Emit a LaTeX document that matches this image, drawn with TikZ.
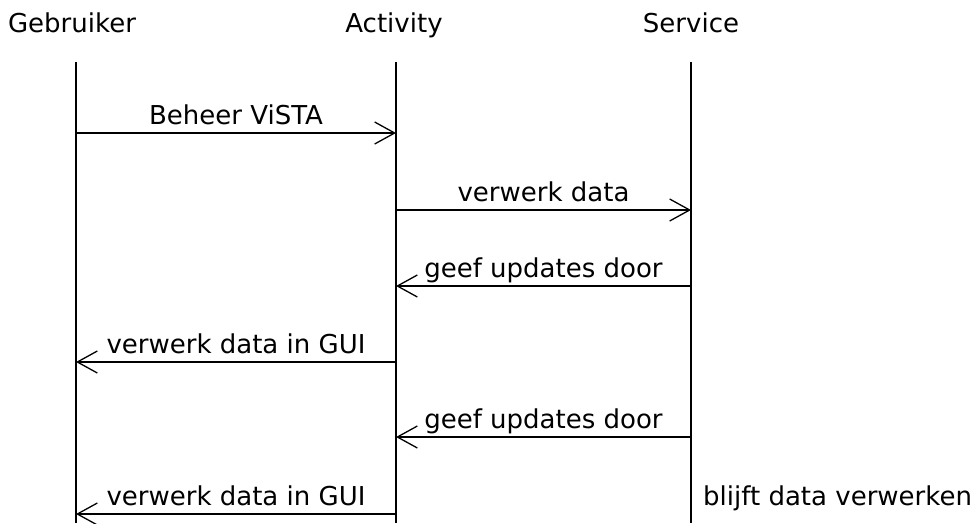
\documentclass[tikz,border=0pt]{standalone}
\usepackage{fontspec}
\setmainfont{DejaVu Sans}
\usetikzlibrary{arrows.meta}

\begin{document}
\begin{tikzpicture}[
  x=1pt, y=-1pt, >={Straight Barb[length=20pt, width=22pt]},
  actor/.style={font=\fontsize{26}{30}\selectfont, anchor=base, inner sep=0pt},
  life/.style={line width=1.3pt},
  msg/.style={line width=1.3pt, ->},
  lbl/.style={font=\fontsize{26}{30}\selectfont, anchor=base, inner sep=0pt, yshift=9pt},
]
  \useasboundingbox (0,0) rectangle (979,523);
  % actors
  \node[actor] (gebruiker) at (72,32) {Gebruiker};
  \node[actor] (activity) at (394,32) {Activity};
  \node[actor] (service) at (691,32) {Service};
  % lifelines
  \coordinate (g0) at (76,62);   \coordinate (gE) at (76,523);
  \coordinate (a0) at (396,62);  \coordinate (aE) at (396,523);
  \coordinate (s0) at (691,62);  \coordinate (sE) at (691,523);
  \draw[life] (g0) -- (gE);
  \draw[life] (a0) -- (aE);
  \draw[life] (s0) -- (sE);
  % message points
  \coordinate (g1) at (76,133);  \coordinate (a1) at (396,133);
  \coordinate (a2) at (396,210); \coordinate (s2) at (691,210);
  \coordinate (a3) at (396,286); \coordinate (s3) at (691,286);
  \coordinate (g4) at (76,362);  \coordinate (a4) at (396,362);
  \coordinate (a5) at (396,437); \coordinate (s5) at (691,437);
  \coordinate (g6) at (76,514);  \coordinate (a6) at (396,514);
  % messages
  \draw[msg] (g1) -- (a1) node[lbl, midway] (m1) {Beheer ViSTA};
  \draw[msg] (a2) -- (s2) node[lbl, midway] (m2) {verwerk data};
  \draw[msg] (s3) -- (a3) node[lbl, midway] (m3) {geef updates door};
  \draw[msg] (a4) -- (g4) node[lbl, midway] (m4) {verwerk data in GUI};
  \draw[msg] (s5) -- (a5) node[lbl, midway] (m5) {geef updates door};
  \draw[msg] (a6) -- (g6) node[lbl, midway] (m6) {verwerk data in GUI};
  \node[actor, anchor=base west] (note) at (703,505) {blijft data verwerken};
\end{tikzpicture}
\end{document}
